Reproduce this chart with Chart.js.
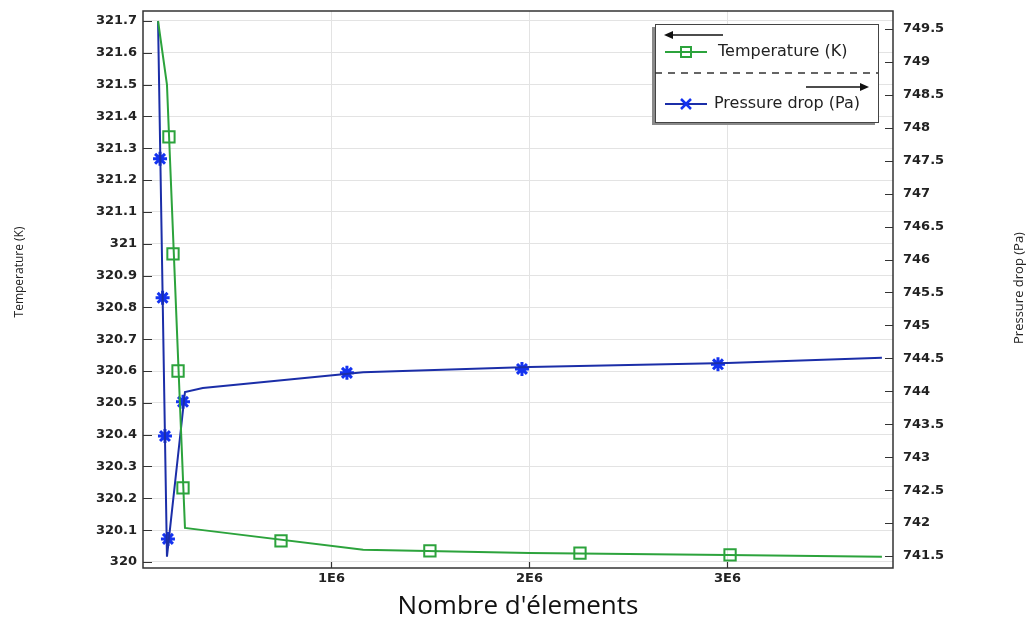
<!DOCTYPE html>
<html>
<head>
<meta charset="utf-8">
<script src="https://cdn.jsdelivr.net/npm/chart.js@4.4.1/dist/chart.umd.min.js"></script>
<style>
html, body { margin: 0; padding: 0; background: #fff; }
#wrap { position: relative; width: 1032px; height: 624px; }
</style>
</head>
<body>
<div id="wrap"><canvas id="meshChart" width="1032" height="624"></canvas></div>
<script>
// mesh convergence data
const elements = [124000, 169000, 260000, 350000, 1160000, 2000000, 3000000, 3780000];
const temperature = [321.70, 321.50, 320.107, 320.10, 320.038, 320.028, 320.022, 320.016];
const pressureDrop = [749.62, 741.49, 743.99, 744.05, 744.29, 744.37, 744.43, 744.51];

// marker positions along the curves
const tempMarkerX = [179000, 199500, 225000, 250000, 745000, 1497000, 2255000, 3013000];
const tempMarkerY = [321.336, 320.968, 320.600, 320.233, 320.066, 320.035, 320.028, 320.022];
const pressMarkerX = [134000, 147000, 159000, 174000, 250000, 1078000, 1962000, 2952000];
const pressMarkerY = [747.53, 745.42, 743.32, 741.76, 743.84, 744.28, 744.34, 744.41];

const xTicks = [1000000, 2000000, 3000000];
const tempTicks = [320, 320.1, 320.2, 320.3, 320.4, 320.5, 320.6, 320.7, 320.8, 320.9,
                   321, 321.1, 321.2, 321.3, 321.4, 321.5, 321.6, 321.7];
const pressTicks = [741.5, 742, 742.5, 743, 743.5, 744, 744.5, 745, 745.5, 746, 746.5,
                    747, 747.5, 748, 748.5, 749, 749.5];

const GREEN = '#2ca33c';
const BLUE_LINE = '#1b2ea8';
const BLUE_MARK = '#1433f0';
const tickFont = { family: 'DejaVu Sans', size: 13, weight: 'bold' };

function pairs(xs, ys) {
    return xs.map(function (x, i) { return { x: x, y: ys[i] }; });
}

function fixedTicks(list) {
    return function (scale) {
        scale.ticks = list.map(function (v) { return { value: v }; });
    };
}

// fixed box size, and no extra room reserved for overhanging labels
function fitBox(size) {
    return function (scale) {
        if (scale.isHorizontal()) {
            scale.height = size;
        } else {
            scale.width = size;
        }
        scale.paddingTop = 0;
        scale.paddingBottom = 0;
        scale.paddingLeft = 0;
        scale.paddingRight = 0;
    };
}

// frame, inward tick marks, legend and vertical axis titles
const decorations = {
    id: 'decorations',
    afterDraw: function (chart) {
        const ctx = chart.ctx;
        const a = chart.chartArea;
        const sx = chart.scales.x, sy = chart.scales.y, sy1 = chart.scales.y1;
        ctx.save();

        ctx.strokeStyle = '#333';
        ctx.lineWidth = 1.5;
        ctx.strokeRect(a.left, a.top, a.right - a.left, a.bottom - a.top);

        ctx.lineWidth = 1.2;
        ctx.beginPath();
        tempTicks.forEach(function (v) {
            const y = Math.round(sy.getPixelForValue(v)) + 0.5;
            ctx.moveTo(a.left, y); ctx.lineTo(a.left + 9, y);
        });
        pressTicks.forEach(function (v) {
            const y = Math.round(sy1.getPixelForValue(v)) + 0.5;
            ctx.moveTo(a.right, y); ctx.lineTo(a.right - 8, y);
        });
        xTicks.forEach(function (v) {
            const x = Math.round(sx.getPixelForValue(v)) + 0.5;
            ctx.moveTo(x, a.bottom); ctx.lineTo(x, a.bottom - 6);
        });
        ctx.stroke();

        // legend box
        const L = 655, T = 24, W = 223, H = 98;
        ctx.fillStyle = '#8a8a8a';
        ctx.fillRect(L - 3, T + 3, W, H);
        ctx.fillStyle = '#fff';
        ctx.fillRect(L, T, W, H);
        ctx.strokeStyle = '#444';
        ctx.lineWidth = 1;
        ctx.strokeRect(L + 0.5, T + 0.5, W, H);

        ctx.fillStyle = '#111';
        ctx.strokeStyle = '#111';
        ctx.lineWidth = 1.5;
        ctx.beginPath(); ctx.moveTo(670, 35); ctx.lineTo(723, 35); ctx.stroke();
        ctx.beginPath(); ctx.moveTo(664, 35); ctx.lineTo(673, 31); ctx.lineTo(673, 39); ctx.closePath(); ctx.fill();
        ctx.beginPath(); ctx.moveTo(806, 87); ctx.lineTo(862, 87); ctx.stroke();
        ctx.beginPath(); ctx.moveTo(869, 87); ctx.lineTo(860, 83); ctx.lineTo(860, 91); ctx.closePath(); ctx.fill();

        ctx.setLineDash([7, 6]);
        ctx.strokeStyle = '#333';
        ctx.beginPath(); ctx.moveTo(L, 73); ctx.lineTo(L + W, 73); ctx.stroke();
        ctx.setLineDash([]);

        ctx.lineWidth = 2;
        ctx.strokeStyle = GREEN;
        ctx.beginPath(); ctx.moveTo(665, 52); ctx.lineTo(707, 52); ctx.stroke();
        ctx.strokeRect(681, 47, 10, 10);
        ctx.strokeStyle = BLUE_LINE;
        ctx.beginPath(); ctx.moveTo(665, 104); ctx.lineTo(707, 104); ctx.stroke();
        ctx.strokeStyle = BLUE_MARK;
        ctx.lineWidth = 2.5;
        ctx.beginPath();
        ctx.moveTo(681, 99); ctx.lineTo(691, 109);
        ctx.moveTo(691, 99); ctx.lineTo(681, 109);
        ctx.stroke();

        ctx.fillStyle = '#222';
        ctx.font = '16px "DejaVu Sans"';
        ctx.textBaseline = 'middle';
        ctx.textAlign = 'left';
        ctx.fillText('Temperature (K)', 718, 52);
        ctx.fillText('Pressure drop (Pa)', 714, 104);

        // axis titles, both reading bottom to top
        ctx.font = '12px "Open Sans"';
        ctx.textAlign = 'center';
        ctx.save();
        ctx.translate(20, 272);
        ctx.rotate(-Math.PI / 2);
        ctx.fillText('Temperature (K)', 0, 0);
        ctx.restore();
        ctx.save();
        ctx.translate(1019, 288);
        ctx.rotate(-Math.PI / 2);
        ctx.font = '13px "Open Sans"';
        ctx.fillText('Pressure drop (Pa)', 0, 0);
        ctx.restore();

        ctx.restore();
    }
};

new Chart(document.getElementById('meshChart').getContext('2d'), {
    type: 'scatter',
    data: {
        datasets: [
            {
                label: 'Temperature (K)',
                data: pairs(elements, temperature),
                yAxisID: 'y',
                showLine: true,
                borderColor: GREEN,
                borderWidth: 2,
                pointRadius: 0,
                tension: 0
            },
            {
                label: 'Temperature markers',
                data: pairs(tempMarkerX, tempMarkerY),
                yAxisID: 'y',
                showLine: false,
                pointStyle: 'rect',
                pointRadius: 8,
                borderWidth: 2,
                borderColor: GREEN,
                backgroundColor: 'rgba(0,0,0,0)'
            },
            {
                label: 'Pressure drop (Pa)',
                data: pairs(elements, pressureDrop),
                yAxisID: 'y1',
                showLine: true,
                borderColor: BLUE_LINE,
                borderWidth: 2,
                pointRadius: 0,
                tension: 0
            },
            {
                label: 'Pressure markers',
                data: pairs(pressMarkerX, pressMarkerY),
                yAxisID: 'y1',
                showLine: false,
                pointStyle: 'star',
                pointRadius: 7,
                borderWidth: 3,
                borderColor: BLUE_MARK,
                backgroundColor: BLUE_MARK
            }
        ]
    },
    options: {
        responsive: false,
        animation: false,
        devicePixelRatio: 1,
        layout: { padding: { top: 11, left: 0, right: 0, bottom: 0 } },
        plugins: {
            legend: { display: false },
            tooltip: { enabled: false }
        },
        scales: {
            x: {
                type: 'linear',
                position: 'bottom',
                min: 48000,
                max: 3836000,
                afterBuildTicks: fixedTicks(xTicks),
                afterFit: fitBox(56),
                grid: { color: '#e3e3e3', drawTicks: false },
                border: { display: false },
                ticks: {
                    padding: 3,
                    color: '#222',
                    font: tickFont,
                    maxRotation: 0,
                    callback: function (v) { return (v / 1000000) + 'E6'; }
                },
                title: {
                    display: true,
                    text: "Nombre d'élements",
                    color: '#111',
                    font: { family: 'Open Sans', size: 26 },
                    padding: { top: 0, bottom: 2 }
                }
            },
            y: {
                position: 'left',
                min: 319.981,
                max: 321.7314,
                afterBuildTicks: fixedTicks(tempTicks),
                afterFit: fitBox(143),
                grid: { color: '#e3e3e3', drawTicks: false },
                border: { display: false },
                ticks: {
                    padding: 6,
                    color: '#222',
                    font: tickFont,
                    callback: function (v) { return String(Math.round(v * 10) / 10); }
                }
            },
            y1: {
                position: 'right',
                min: 741.318,
                max: 749.773,
                afterBuildTicks: fixedTicks(pressTicks),
                afterFit: fitBox(139),
                grid: { display: false, drawTicks: false },
                border: { display: false },
                ticks: {
                    padding: 10,
                    color: '#222',
                    font: tickFont,
                    callback: function (v) { return String(Math.round(v * 2) / 2); }
                }
            }
        }
    },
    plugins: [decorations]
});
</script>
</body>
</html>
